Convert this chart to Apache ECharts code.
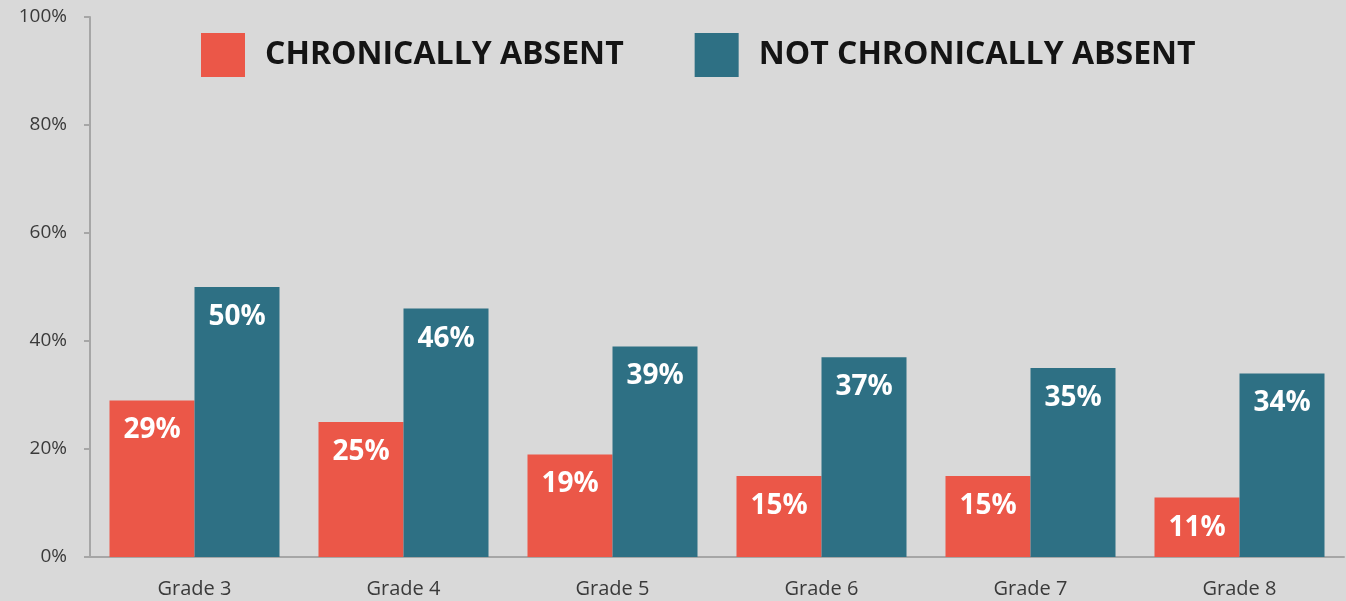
<!DOCTYPE html>
<html><head><meta charset="utf-8">
<script src="https://cdn.jsdelivr.net/npm/echarts@6/dist/echarts.min.js"></script>
<style>html,body{margin:0;padding:0;background:#d9d9d9;}#c{width:1346px;height:601px;}</style>
</head><body><div id="c"></div>
<script>
const categories = ['Grade 3','Grade 4','Grade 5','Grade 6','Grade 7','Grade 8'];
const chronicallyAbsent = [29,25,19,15,15,11];
const notChronicallyAbsent = [50,46,39,37,35,34];
const seriesNames = ['CHRONICALLY ABSENT','NOT CHRONICALLY ABSENT'];
const yTicks = {min:0,max:100,interval:20};

const chart = echarts.init(document.getElementById('c'));
const font = '"Open Sans", sans-serif';
const labelCfg = {show:true, position:'insideTop', distance:16, color:'#ffffff', fontFamily:font, fontWeight:'bold', fontSize:28, formatter: p => Math.round(p.value)+'%'};
chart.setOption({
  backgroundColor:'#d9d9d9',
  animation:false,
  grid:{left:90, right:2, top:17, bottom:44, containLabel:false},
  legend:{
    top:28, left:196, itemWidth:44, itemHeight:44, itemGap:71, icon:'rect',
    textStyle:{fontFamily:font, fontWeight:'bold', fontSize:32, color:'#141414', padding:[6,0,0,15]},
    data:seriesNames
  },
  xAxis:{type:'category', data:categories,
    axisLine:{lineStyle:{color:'#a6a6a6', width:2}}, axisTick:{show:false},
    axisLabel:{color:'#3a3a3a', fontFamily:font, fontSize:20, margin:22}},
  yAxis:{type:'value', min:yTicks.min, max:yTicks.max, interval:yTicks.interval,
    axisLine:{show:true, lineStyle:{color:'#a6a6a6', width:2}},
    axisTick:{show:true, length:6, lineStyle:{color:'#a6a6a6', width:2}},
    splitLine:{show:false},
    axisLabel:{color:'#3a3a3a', fontFamily:font, fontSize:19, margin:23, formatter:'{value}%'}},
  series:[
    {name:seriesNames[0], type:'bar', data:chronicallyAbsent, barWidth:85, barGap:'0%', itemStyle:{color:'#eb5748'}, label:labelCfg},
    {name:seriesNames[1], type:'bar', data:notChronicallyAbsent, barWidth:85, barGap:'0%', itemStyle:{color:'#2e7084'}, label:labelCfg}
  ]
});
</script></body></html>
